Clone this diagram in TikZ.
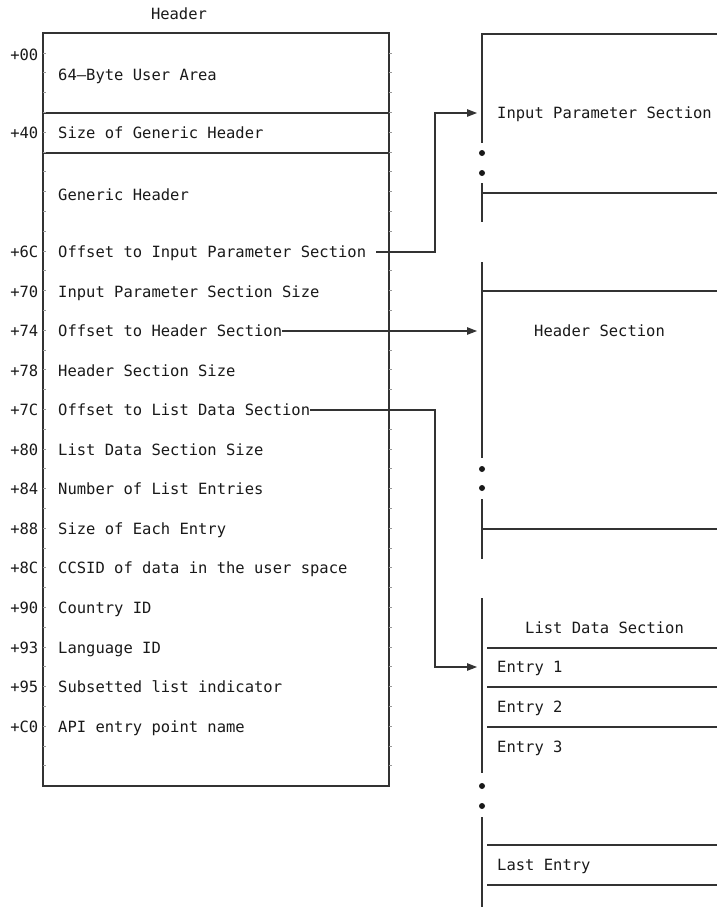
\documentclass[tikz,border=0pt]{standalone}
\usepackage{fontspec}
\setmonofont{DejaVu Sans Mono}
\usetikzlibrary{arrows.meta}
\begin{document}
\begin{tikzpicture}[x=1pt,y=-1pt,
  ln/.style={line width=1.1pt, draw=black!80},
  txt/.style={font=\ttfamily\fontsize{15.5}{18}\selectfont, text=black!90, inner sep=0pt, text height=11.3pt, text depth=0pt},
  lbl/.style={txt, anchor=east},
  fld/.style={txt, anchor=west},
  conn/.style={ln, -{Triangle[length=10pt,width=7.5pt]}},
  dotmark/.style={circle, fill=black!90, draw=none, inner sep=0pt, minimum size=6pt},
  tickmark/.style={draw=black!40, line width=0.5pt}]
\useasboundingbox (0,0) rectangle (717,913);

% ---- Header box ----
\node[txt] (hdr) at (179,14) {Header};
\draw[ln] (43,33) rectangle (389,786);
\draw[ln] (43,113) -- (389,113);
\draw[ln] (43,153) -- (389,153);
\foreach \k in {1,...,37} {
  \draw[tickmark] (43,{33+19.8*\k}) -- (46,{33+19.8*\k});
  \draw[tickmark] (389,{33+19.8*\k}) -- (392,{33+19.8*\k});
}

\node[lbl] (l00) at (38.5,55) {+00};
\node[fld] (f00) at (58,75) {64—Byte User Area};
\node[lbl] (l40) at (38.5,133) {+40};
\node[fld] (f40) at (58,133) {Size of Generic Header};
\node[fld] (fgh) at (58,195) {Generic Header};
\node[lbl] (l6c) at (38.5,252) {+6C};
\node[fld] (f6c) at (58,252) {Offset to Input Parameter Section};
\node[lbl] (l70) at (38.5,291.5) {+70};
\node[fld] (f70) at (58,291.5) {Input Parameter Section Size};
\node[lbl] (l74) at (38.5,331) {+74};
\node[fld] (f74) at (58,331) {Offset to Header Section};
\node[lbl] (l78) at (38.5,370.5) {+78};
\node[fld] (f78) at (58,370.5) {Header Section Size};
\node[lbl] (l7c) at (38.5,410) {+7C};
\node[fld] (f7c) at (58,410) {Offset to List Data Section};
\node[lbl] (l80) at (38.5,450) {+80};
\node[fld] (f80) at (58,450) {List Data Section Size};
\node[lbl] (l84) at (38.5,489) {+84};
\node[fld] (f84) at (58,489) {Number of List Entries};
\node[lbl] (l88) at (38.5,529) {+88};
\node[fld] (f88) at (58,529) {Size of Each Entry};
\node[lbl] (l8c) at (38.5,568) {+8C};
\node[fld] (f8c) at (58,568) {CCSID of data in the user space};
\node[lbl] (l90) at (38.5,608) {+90};
\node[fld] (f90) at (58,608) {Country ID};
\node[lbl] (l93) at (38.5,648) {+93};
\node[fld] (f93) at (58,648) {Language ID};
\node[lbl] (l95) at (38.5,687) {+95};
\node[fld] (f95) at (58,687) {Subsetted list indicator};
\node[lbl] (lc0) at (38.5,727) {+C0};
\node[fld] (fc0) at (58,727) {API entry point name};

% ---- Input Parameter Section ----
\draw[ln] (717,34) -- (482,34) -- (482,143);
\draw[ln] (482,183) -- (482,222);
\draw[ln] (482,193) -- (717,193);
\node[dotmark] (d1) at (482,153) {};
\node[dotmark] (d2) at (482,173) {};
\node[fld] (ips) at (497,113) {Input Parameter Section};

% ---- Header Section ----
\draw[ln] (482,262) -- (482,458);
\draw[ln] (482,499) -- (482,559);
\draw[ln] (482,291) -- (717,291);
\draw[ln] (482,529) -- (717,529);
\node[dotmark] (d3) at (482,469) {};
\node[dotmark] (d4) at (482,488) {};
\node[fld] (hs) at (534,331) {Header Section};

% ---- List Data Section ----
\draw[ln] (482,598) -- (482,773);
\draw[ln] (482,817) -- (482,907);
\foreach \yy in {648,687,727,845,885} \draw[ln] (487,\yy) -- (717,\yy);
\node[dotmark] (d5) at (482,786) {};
\node[dotmark] (d6) at (482,806) {};
\node[fld] (lds) at (525,628) {List Data Section};
\node[fld] (e1) at (497,667) {Entry 1};
\node[fld] (e2) at (497,707) {Entry 2};
\node[fld] (e3) at (497,747) {Entry 3};
\node[fld] (el) at (497,865) {Last Entry};

% ---- connectors ----
\coordinate (jx) at (435,0);
\coordinate (t1) at (477,113);
\coordinate (t2) at (477,331);
\coordinate (t3) at (477,667);
\draw[conn, shorten <=10pt] (f6c.east) -| (t1 -| jx) -- (t1);
\draw[conn] (f74.east) -- (t2);
\draw[conn] (f7c.east) -| (t3 -| jx) -- (t3);
\end{tikzpicture}
\end{document}
